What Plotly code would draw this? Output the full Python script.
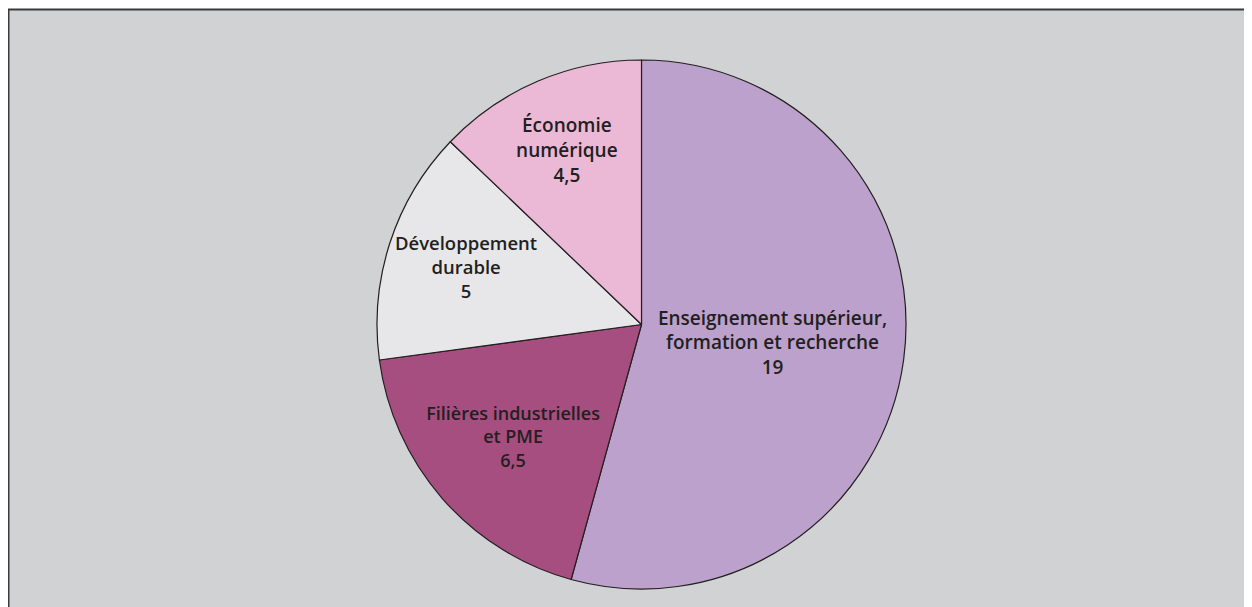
import plotly.graph_objects as go

labels = [
    "Enseignement supérieur,<br>formation et recherche",
    "Filières industrielles<br>et PME",
    "Développement<br>durable",
    "Économie<br>numérique",
]
values = [19, 6.5, 5, 4.5]
slice_colors = ["#BBA1CB", "#A74E80", "#E7E7E9", "#EBB9D6"]

W, H = 1252, 607
OFF = 8  # page offset of the figure in the browser

fig = go.Figure(
    go.Pie(
        labels=labels,
        values=values,
        sort=False,
        direction="clockwise",
        rotation=0,
        marker=dict(colors=slice_colors, line=dict(color="#231F20", width=1.2)),
        texttemplate="%{label}<br>%{value}",
        textposition="inside",
        insidetextorientation="horizontal",
        textfont=dict(family="Open Sans", size=19, color="#231F20", weight=600),
        hoverinfo="label+value",
        domain=dict(
            x=[(377 - OFF) / W, (906 - OFF) / W],
            y=[1 - (589 - OFF) / H, 1 - (60 - OFF) / H],
        ),
    )
)

# grey frame
fig.add_shape(
    type="rect", xref="paper", yref="paper",
    x0=0.5 / W, x1=1.02, y0=-0.03, y1=1 - 1.5 / H,
    fillcolor="#D1D2D4", line=dict(color="#3A3A3A", width=2), layer="below",
)

fig.update_layout(
    width=W,
    height=H,
    margin=dict(l=0, r=0, t=0, b=0),
    paper_bgcolor="white",
    plot_bgcolor="white",
    showlegend=False,
    separators=", ",
)

fig.write_html("out.html")
